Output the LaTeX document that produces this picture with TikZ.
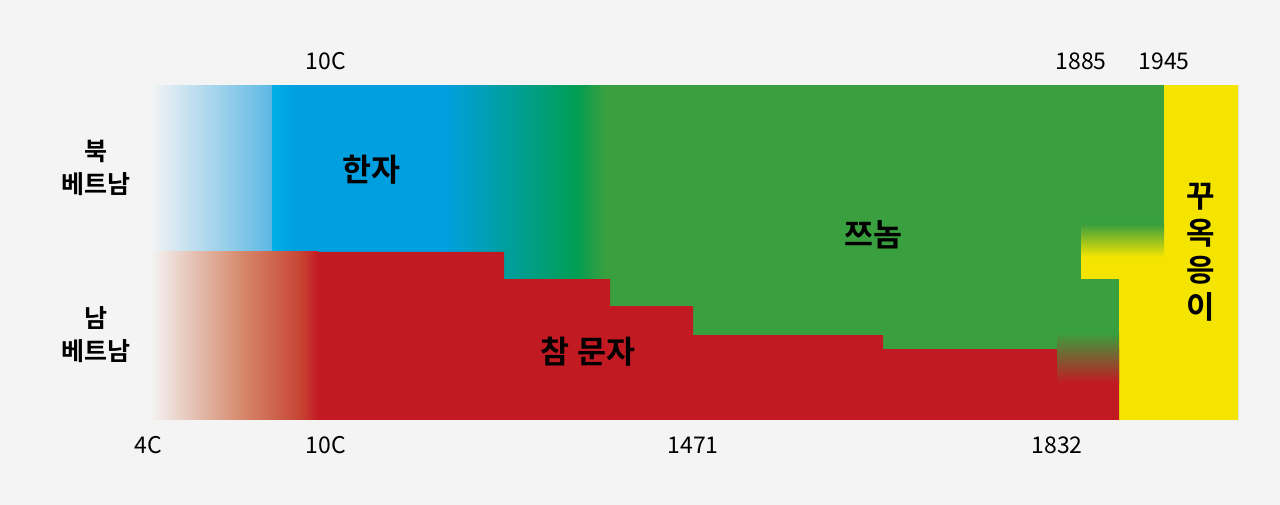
\documentclass[tikz,border=0pt]{standalone}
\usepackage{fontspec}
\setmainfont{Noto Sans CJK KR}[BoldFont={Noto Sans CJK KR Bold}]
\definecolor{bg}{HTML}{F4F4F4}
\definecolor{hzfade}{HTML}{5DB8E4}
\definecolor{hzcyan}{HTML}{00B0E6}
\definecolor{hzblue}{HTML}{009FDF}
\definecolor{cnteal}{HTML}{009E54}
\definecolor{cngreen}{HTML}{3A9F3E}
\definecolor{cmred}{HTML}{C21A23}
\definecolor{cmpeach}{HTML}{D68B6E}
\definecolor{cmfade}{HTML}{C84534}
\definecolor{qnyellow}{HTML}{F5E400}

\begin{document}
\begin{tikzpicture}[x=1pt,y=-1pt,
    year/.style={font=\fontsize{23}{26}\selectfont},
    side/.style={font=\fontsize{25}{33}\selectfont\bfseries, align=center},
    script/.style={font=\fontsize{31.5}{34}\selectfont\bfseries}]
        \fill[bg] (0,0) rectangle (1280,505);
        \useasboundingbox (0,0) rectangle (1280,505);
        \begin{scope}
        \clip (152,86) rectangle (1238,419);
        % han tu band, fading in from the left
        \fill[hzblue] (150,80) rectangle (1240,425);
        \shade[left color=bg, right color=hzfade] (150,80) rectangle (272,425);
        \shade[left color=hzcyan, right color=hzblue] (272,80) rectangle (295,425);
        \shade[left color=hzblue, right color=cnteal] (445,80) rectangle (576,425);
        \shade[left color=cnteal, right color=cngreen] (576,80) rectangle (605,425);
        \fill[cngreen] (605,80) rectangle (1164,425);
        % quoc ngu
        \fill[qnyellow] (1164,80) rectangle (1240,425);
        \fill[qnyellow] (1119,279) rectangle (1164,425);
        \fill[qnyellow] (1081,257) rectangle (1164,279);
        \shade[top color=cngreen, bottom color=qnyellow] (1081,224) rectangle (1164,257);
        % cham steps
        \fill[cmred] (150,252) -| (504,279) -| (610,306) -| (693,335) -| (883,349) -| (1119,425) -- (150,425) -- cycle;
        \shade[left color=bg, right color=cmpeach] (150,252) rectangle (240,425);
        \shade[left color=cmpeach, right color=cmfade] (240,252) rectangle (300,425);
        \shade[left color=cmfade, right color=cmred] (300,252) rectangle (318,425);
        \shade[top color=cngreen, bottom color=cmred] (1057,333) rectangle (1119,383);
        \end{scope}
        % labels
        \node[side] (north) at (96,168) {북\\베트남};
        \node[side] (south) at (96,335) {남\\베트남};
        \node[script] (hanja) at (371,170) {한자};
        \node[script] (chunom) at (873,235) {쯔놈};
        \node[script] (cham) at (588,352) {참 문자};
        \node[script, align=center, font=\fontsize{31}{37}\selectfont\bfseries] (quocngu) at (1201,252) {꾸\\옥\\응\\이};
        \node[year] (top10c) at (326,61) {10C};
        \node[year] (top1885) at (1081,61) {1885};
        \node[year] (top1945) at (1164,61) {1945};
        \node[year] (bot4c) at (148,445) {4C};
        \node[year] (bot10c) at (326,445) {10C};
        \node[year] (bot1471) at (693,445) {1471};
        \node[year] (bot1832) at (1057,445) {1832};
    \end{tikzpicture}
\end{document}
